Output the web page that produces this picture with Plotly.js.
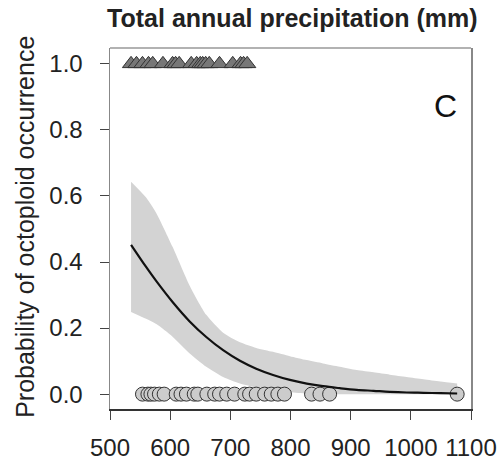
<!DOCTYPE html>
<html>
<head>
<meta charset="utf-8">
<script src="https://cdn.plot.ly/plotly-3.0.1.min.js"></script>
<style>html,body{margin:0;padding:0;background:#fff;}#chart{width:502px;height:464px;}</style>
</head>
<body>
<div id="chart"></div>
<script>
// Observed octoploid presence (y = 1) precipitation values
const precipPresent = [535, 544, 554, 564, 571, 588, 604, 609, 615, 635, 644, 650, 654, 659, 665, 682, 704, 717, 722, 728];
const occPresent = precipPresent.map(() => 1);
// Observed absence (y = 0)
const precipAbsent = [554, 563, 568, 574, 582, 590, 610, 618, 627, 640, 646, 661, 674, 682, 694, 707, 724, 732, 743, 757, 768, 779, 790, 835, 849, 865, 1077];
const occAbsent = precipAbsent.map(() => 0);
// Fitted curve and confidence band
const precipCurve = [535, 560, 577, 604, 632, 660, 688, 716, 743, 771, 799, 827, 854, 882, 910, 938, 965, 993, 1021, 1049, 1077];
const probFit   = [0.452, 0.385, 0.342, 0.279, 0.221, 0.173, 0.133, 0.101, 0.077, 0.058, 0.043, 0.032, 0.024, 0.018, 0.013, 0.010, 0.007, 0.005, 0.004, 0.003, 0.002];
const probUpper = [0.643, 0.595, 0.548, 0.446, 0.330, 0.240, 0.186, 0.157, 0.140, 0.128, 0.115, 0.103, 0.093, 0.083, 0.073, 0.066, 0.059, 0.052, 0.045, 0.038, 0.032];
const probLower = [0.249, 0.228, 0.212, 0.174, 0.124, 0.083, 0.052, 0.032, 0.020, 0.012, 0.006, 0.002, 0.000, 0.000, 0.000, 0.000, 0.000, 0.000, 0.000, 0.000, 0.000];
const yTickVals = [0, 0.2, 0.4, 0.6, 0.8, 1.0];
const yTickText = ["0.0", "0.2", "0.4", "0.6", "0.8", "1.0"];
const xTickVals = [500, 600, 700, 800, 900, 1000, 1100];

const FONT = "Arial, 'Liberation Sans', Helvetica, sans-serif";
const traces = [
  {x: precipCurve, y: probLower, mode: 'lines', line: {width: 0, color: 'rgba(0,0,0,0)', shape: 'spline', smoothing: 0.6}, hoverinfo: 'skip', showlegend: false},
  {x: precipCurve, y: probUpper, mode: 'lines', line: {width: 0, color: 'rgba(0,0,0,0)', shape: 'spline', smoothing: 0.6}, fill: 'tonexty', fillcolor: '#d3d3d3', showlegend: false},
  {x: precipAbsent, y: occAbsent, mode: 'markers', marker: {symbol: 'circle', size: 14, color: '#cccccc', line: {color: '#333', width: 1}}, showlegend: false},
  {x: precipPresent, y: occPresent, mode: 'markers', marker: {symbol: 'triangle-up', size: 15, color: '#777777', line: {color: '#333', width: 1}}, showlegend: false},
  {x: precipCurve, y: probFit, mode: 'lines', line: {color: '#111', width: 2.2, shape: 'spline'}, showlegend: false}
];

const layout = {
  width: 502, height: 464,
  margin: {l: 110, r: 31, t: 48, b: 55},
  paper_bgcolor: '#fff', plot_bgcolor: '#fff',
  font: {family: FONT, color: '#222'},
  title: {text: '<b>Total annual precipitation (mm)</b>', font: {family: FONT, size: 25, color: '#222'},
          xref: 'paper', x: 0.505, xanchor: 'center', yref: 'container', y: 0.961, yanchor: 'middle'},
  xaxis: {range: [500, 1100], tickvals: xTickVals, ticks: 'outside', ticklen: 9, tickcolor: '#444', tickwidth: 1,
          showline: true, linecolor: '#333', linewidth: 1.5, showgrid: false, zeroline: false,
          tickfont: {family: FONT, size: 24, color: '#222'}, ticklabelstandoff: 8},
  yaxis: {range: [-0.045, 1.048], tickvals: yTickVals, ticktext: yTickText, ticks: 'outside', ticklen: 9, tickcolor: '#444', tickwidth: 1,
          showline: true, mirror: true, linecolor: '#888', linewidth: 1.5, showgrid: false, zeroline: false,
          tickfont: {family: FONT, size: 24, color: '#222'}, ticklabelstandoff: 12},
  shapes: [{type: 'line', xref: 'paper', yref: 'paper', x0: 0, x1: 1, y0: 1, y1: 1, line: {color: '#999', width: 1.5}}],
  annotations: [
    {text: 'C', xref: 'paper', yref: 'paper', x: 0.93, y: 0.838, xanchor: 'center', yanchor: 'middle', showarrow: false,
     font: {family: FONT, size: 32, color: '#111'}},
    {text: 'Probability of octoploid occurrence', xref: 'paper', yref: 'paper', x: -0.235, y: 0.505, textangle: -90,
     xanchor: 'center', yanchor: 'middle', showarrow: false, font: {family: FONT, size: 25, color: '#222'}}
  ]
};
Plotly.newPlot('chart', traces, layout, {displayModeBar: false, staticPlot: true});
</script>
</body>
</html>
